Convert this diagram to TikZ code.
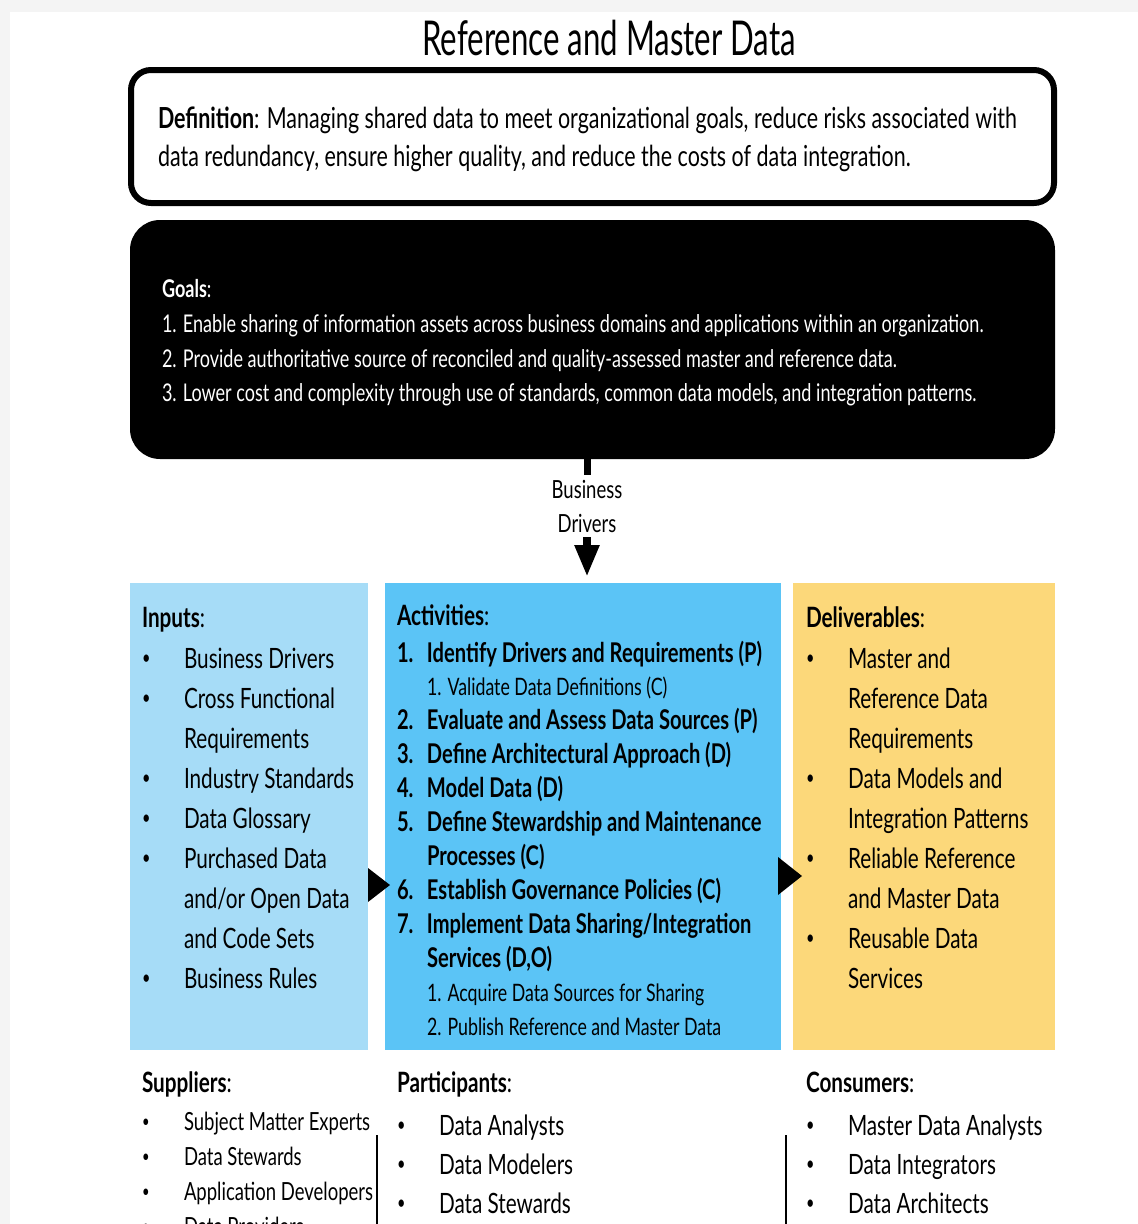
\documentclass[tikz,border=0pt]{standalone}
\usepackage{fontspec}
\setmainfont{Lato}[FakeStretch=0.74]
\newfontfamily\titlefont{Lato}[FakeStretch=0.65]
\usetikzlibrary{arrows.meta,calc}
\definecolor{inblue}{RGB}{166,220,247}
\definecolor{actblue}{RGB}{91,196,246}
\definecolor{delyel}{RGB}{252,216,122}
\definecolor{edgegray}{RGB}{244,244,244}
\newcommand\fTitle{\titlefont\fontsize{48}{48}\selectfont}
\newcommand\fDef{\fontsize{29}{29}\selectfont}
\newcommand\fGoal{\fontsize{24.4}{24.4}\selectfont}
\newcommand\fSub{\fontsize{24}{24}\selectfont}
\newcommand\fBig{\fontsize{28}{28}\selectfont}
\newcommand\fAct{\fontsize{27.2}{27.2}\selectfont}
\newcommand\fSup{\fontsize{25}{25}\selectfont}
\newcommand\fBD{\fontsize{25}{25}\selectfont}
\newcommand\smallbullet{\raisebox{0.12em}{\scalebox{0.7}{\textbullet}}}
\newcommand\bul[1]{\makebox[42pt][l]{\smallbullet}#1}
\newcommand\cnt[1]{\hspace*{42pt}#1}
\newcommand\anum[2]{\makebox[30pt][l]{\textbf{#1}}\textbf{#2}}
\newcommand\acnt[1]{\hspace*{30pt}\textbf{#1}}
\begin{document}
\begin{tikzpicture}[x=1pt,y=-1pt,
  txt/.style={anchor=base west,inner sep=0pt,outer sep=0pt},
  colbox/.style={rectangle,inner sep=0pt,minimum width=#1,minimum height=467,anchor=north west},
  sidearrow/.style={line width=0pt}]
\useasboundingbox (0,0) rectangle (1138,1224);
\fill[edgegray] (0,0) rectangle (1138,1224);
\fill[white] (10,12) rectangle (1138,1224);

% title
\node[anchor=base,inner sep=0pt,font=\fTitle] (title) at (609,55) {Reference and Master Data};

% definition box
\node[draw,line width=6pt,rounded corners=20pt,minimum width=923,minimum height=133,inner sep=0pt] (def) at (592.5,136.5) {};
\node[txt,font=\fDef] (def1) at (158,128) {\textbf{Definition}: Managing shared data to meet organizational goals, reduce risks associated with};
\node[txt,font=\fDef] (def2) at (158,166) {data redundancy, ensure higher quality, and reduce the costs of data integration.};

% goals box
\node[fill=black,rounded corners=30pt,minimum width=925,minimum height=239,inner sep=0pt] (goals) at (592.5,339.5) {};
\node[txt,font=\fGoal,text=white] (g0) at (162,297) {\textbf{Goals}:};
\node[txt,font=\fGoal,text=white] (g1) at (162,332) {1. Enable sharing of information assets across business domains and applications within an organization.};
\node[txt,font=\fGoal,text=white] (g2) at (162,367) {2. Provide authoritative source of reconciled and quality-assessed master and reference data.};
\node[txt,font=\fGoal,text=white] (g3) at (162,401) {3. Lower cost and complexity through use of standards, common data models, and integration patterns.};

% business drivers
\node[anchor=base,inner sep=0pt,font=\fBD] (bd1) at (587,498) {Business};
\node[anchor=base,inner sep=0pt,font=\fBD] (bd2) at (587,532) {Drivers};

% column boxes
\node[colbox=238,fill=inblue] (inputs) at (130,583) {};
\node[colbox=396,fill=actblue] (act) at (385,583) {};
\node[colbox=262,fill=delyel] (del) at (793,583) {};

\draw[line width=7pt,shorten >=5pt] (goals.south -| bd1.north) -- (bd1.north);
\draw[line width=8pt,shorten <=5pt,shorten >=6pt,-{Triangle[width=23pt,length=32pt]}] (bd2.south) -- (bd2.south |- act.north);
\draw[sidearrow,shorten >=-5pt,-{Triangle[width=34pt,length=22pt]}] (inputs.east |- 0,885) -- (act.west |- 0,885);
\draw[sidearrow,shorten >=-9pt,-{Triangle[width=38pt,length=24pt]}] (act.east |- 0,876) -- (del.west |- 0,876);

% inputs
\node[txt,font=\fBig] (in0) at (142,627) {\textbf{Inputs}:};
\node[txt,font=\fBig] (in1) at (142,668) {\bul{Business Drivers}};
\node[txt,font=\fBig] (in2) at (142,708) {\bul{Cross Functional}};
\node[txt,font=\fBig] (in3) at (142,748) {\cnt{Requirements}};
\node[txt,font=\fBig] (in4) at (142,788) {\bul{Industry Standards}};
\node[txt,font=\fBig] (in5) at (142,828) {\bul{Data Glossary}};
\node[txt,font=\fBig] (in6) at (142,868) {\bul{Purchased Data}};
\node[txt,font=\fBig] (in7) at (142,908) {\cnt{and/or Open Data}};
\node[txt,font=\fBig] (in8) at (142,948) {\cnt{and Code Sets}};
\node[txt,font=\fBig] (in9) at (142,988) {\bul{Business Rules}};

% activities
\node[txt,font=\fBig] (ac0) at (397,625) {\textbf{Activities}:};
\node[txt,font=\fAct] (ac1) at (397,662) {\anum{1.}{Identify Drivers and Requirements (P)}};
\node[txt,font=\fSub] (ac2) at (427,695) {1. Validate Data Definitions (C)};
\node[txt,font=\fAct] (ac3) at (397,729) {\anum{2.}{Evaluate and Assess Data Sources (P)}};
\node[txt,font=\fAct] (ac4) at (397,763) {\anum{3.}{Define Architectural Approach (D)}};
\node[txt,font=\fAct] (ac5) at (397,797) {\anum{4.}{Model Data (D)}};
\node[txt,font=\fAct] (ac6) at (397,831) {\anum{5.}{Define Stewardship and Maintenance}};
\node[txt,font=\fAct] (ac7) at (397,865) {\acnt{Processes (C)}};
\node[txt,font=\fAct] (ac8) at (397,899) {\anum{6.}{Establish Governance Policies (C)}};
\node[txt,font=\fAct] (ac9) at (397,933) {\anum{7.}{Implement Data Sharing/Integration}};
\node[txt,font=\fAct] (ac10) at (397,967) {\acnt{Services (D,O)}};
\node[txt,font=\fSub] (ac11) at (427,1001) {1. Acquire Data Sources for Sharing};
\node[txt,font=\fSub] (ac12) at (427,1035) {2. Publish Reference and Master Data};

% deliverables
\node[txt,font=\fBig] (de0) at (806,627) {\textbf{Deliverables}:};
\node[txt,font=\fBig] (de1) at (806,668) {\bul{Master and}};
\node[txt,font=\fBig] (de2) at (806,708) {\cnt{Reference Data}};
\node[txt,font=\fBig] (de3) at (806,748) {\cnt{Requirements}};
\node[txt,font=\fBig] (de4) at (806,788) {\bul{Data Models and}};
\node[txt,font=\fBig] (de5) at (806,828) {\cnt{Integration Patterns}};
\node[txt,font=\fBig] (de6) at (806,868) {\bul{Reliable Reference}};
\node[txt,font=\fBig] (de7) at (806,908) {\cnt{and Master Data}};
\node[txt,font=\fBig] (de8) at (806,948) {\bul{Reusable Data}};
\node[txt,font=\fBig] (de9) at (806,988) {\cnt{Services}};

% suppliers
\node[txt,font=\fBig] (su0) at (142,1092) {\textbf{Suppliers}:};
\node[txt,font=\fSup] (su1) at (142,1130) {\bul{Subject Matter Experts}};
\node[txt,font=\fSup] (su2) at (142,1165) {\bul{Data Stewards}};
\node[txt,font=\fSup] (su3) at (142,1200) {\bul{Application Developers}};
\node[txt,font=\fSup] (su4) at (142,1235) {\bul{Data Providers}};

% participants
\node[txt,font=\fBig] (pa0) at (397,1092) {\textbf{Participants}:};
\node[txt,font=\fBig] (pa1) at (397,1135) {\bul{Data Analysts}};
\node[txt,font=\fBig] (pa2) at (397,1174) {\bul{Data Modelers}};
\node[txt,font=\fBig] (pa3) at (397,1213) {\bul{Data Stewards}};

% consumers
\node[txt,font=\fBig] (co0) at (806,1092) {\textbf{Consumers}:};
\node[txt,font=\fBig] (co1) at (806,1135) {\bul{Master Data Analysts}};
\node[txt,font=\fBig] (co2) at (806,1174) {\bul{Data Integrators}};
\node[txt,font=\fBig] (co3) at (806,1213) {\bul{Data Architects}};

% dividers
\coordinate (d1top) at (377,1135);
\coordinate (d1bot) at (377,1224);
\coordinate (d2top) at (786,1135);
\coordinate (d2bot) at (786,1224);
\draw[line width=2pt] (d1top) -- (d1bot);
\draw[line width=2pt] (d2top) -- (d2bot);
\end{tikzpicture}
\end{document}
